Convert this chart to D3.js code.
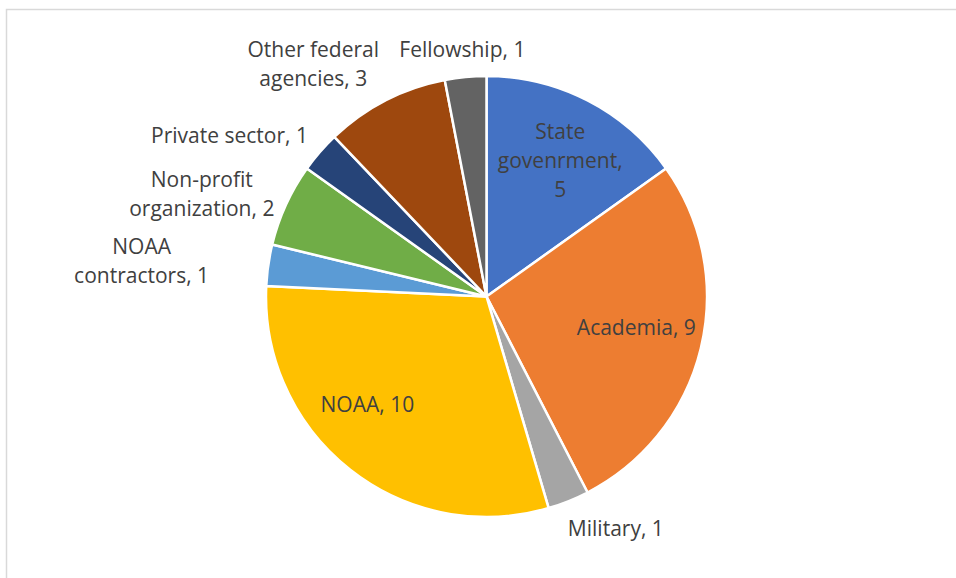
<!DOCTYPE html>
<html>
<head>
<meta charset="utf-8">
<script src="https://cdn.jsdelivr.net/npm/d3@7"></script>
<style>
  body { margin: 0; background: #fff; }
  svg { display: block; }
</style>
</head>
<body>
<svg width="956" height="578"></svg>
<script>
const categories = ["State govenrment", "Academia", "Military", "NOAA", "NOAA contractors",
  "Non-profit organization", "Private sector", "Other federal agencies", "Fellowship"];
const values = [5, 9, 1, 10, 1, 2, 1, 3, 1];
const colors = ["#4472C4", "#ED7D31", "#A5A5A5", "#FFC000", "#5B9BD5",
  "#70AD47", "#264478", "#9E480E", "#636363"];
// label text lines (as wrapped in the original)
const labelLines = [
  ["State", "govenrment,", "5"],
  ["Academia, 9"],
  ["Military, 1"],
  ["NOAA, 10"],
  ["NOAA", "contractors, 1"],
  ["Non-profit", "organization, 2"],
  ["Private sector, 1"],
  ["Other federal", "agencies, 3"],
  ["Fellowship, 1"]
];

const svg = d3.select("svg"),
    cx = 486.5, cy = 296.5, radius = 220.5;

// chart area border (cut off at right and bottom)
svg.append("rect")
    .attr("x", 6.5).attr("y", 9.5)
    .attr("width", 1200).attr("height", 1200)
    .attr("fill", "none")
    .attr("stroke", "#d9d9d9")
    .attr("stroke-width", 1.5);

const data = categories.map((c, i) => ({name: c, value: values[i], color: colors[i], lines: labelLines[i]}));

const pie = d3.pie().sort(null).value(d => d.value);
const arc = d3.arc().innerRadius(0).outerRadius(radius);

const g = svg.append("g")
    .attr("transform", `translate(${cx},${cy})`);

const arcs = pie(data);

g.selectAll("path")
  .data(arcs)
  .join("path")
    .attr("d", arc)
    .attr("fill", d => d.data.color)
    .attr("stroke", "#fff")
    .attr("stroke-width", 2.5)
    .attr("stroke-linejoin", "round");

// label placement: radial factor along mid angle plus small nudge
const labelPos = [
  {k: 0.70, dx: 3, dy: 1},
  {k: 0.69, dx: 2, dy: -5},
  {k: 1.20, dx: 31, dy: -13},
  {k: 0.72, dx: -21, dy: -17},
  {k: 1.20, dx: -83, dy: 2},
  {k: 1.20, dx: -44, dy: 8},
  {k: 1.20, dx: -57, dy: 12},
  {k: 1.20, dx: -52, dy: 3},
  {k: 1.20, dx: 1, dy: 17}
];

const lineH = 29;

g.selectAll("text.lbl")
  .data(arcs)
  .join("text")
    .attr("class", "lbl")
    .attr("text-anchor", "middle")
    .attr("font-family", "'Open Sans', sans-serif")
    .attr("font-size", 21)
    .attr("fill", "#404040")
    .each(function(d, i) {
      const a = (d.startAngle + d.endAngle) / 2,
          p = labelPos[i],
          r = radius * p.k,
          x = r * Math.sin(a) + p.dx,
          y = -r * Math.cos(a) + p.dy,
          n = d.data.lines.length,
          y0 = y - (n - 1) * lineH / 2;
      d3.select(this).selectAll("tspan")
        .data(d.data.lines)
        .join("tspan")
          .attr("x", x)
          .attr("y", (t, j) => y0 + j * lineH)
          .attr("dy", "0.35em")
          .text(t => t);
    });
</script>
</body>
</html>
